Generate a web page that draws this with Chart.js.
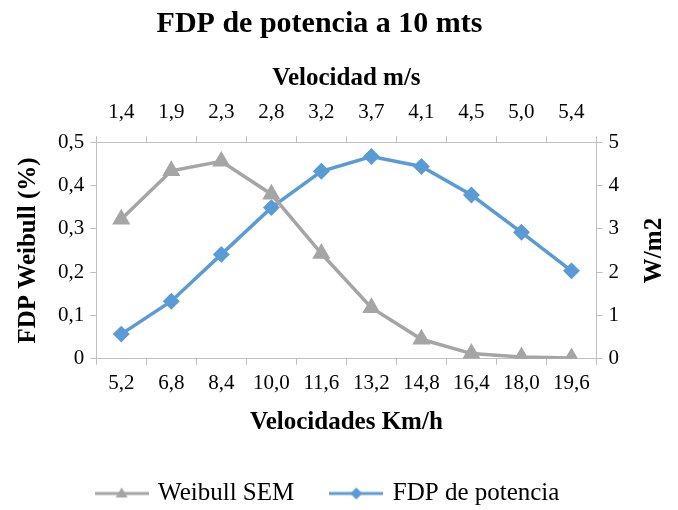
<!DOCTYPE html>
<html>
<head>
<meta charset="utf-8">
<script src="https://cdn.jsdelivr.net/npm/chart.js@4.4.0/dist/chart.umd.min.js"></script>
<style>
  html, body { margin: 0; padding: 0; background: #fff; }
  #wrap { width: 678px; height: 510px; position: relative; }
</style>
</head>
<body>
<div id="wrap"><canvas id="chart" width="678" height="510"></canvas></div>
<script>
// --- Data ---
const kmhLabels = ["5,2", "6,8", "8,4", "10,0", "11,6", "13,2", "14,8", "16,4", "18,0", "19,6"];
const msLabels = ["1,4", "1,9", "2,3", "2,8", "3,2", "3,7", "4,1", "4,5", "5,0", "5,4"];
const weibullSem = [0.322, 0.434, 0.456, 0.380, 0.243, 0.118, 0.045, 0.012, 0.004, 0.002];
const fdpPotencia = [0.57, 1.33, 2.41, 3.49, 4.33, 4.67, 4.44, 3.78, 2.92, 2.03];

const gray = "#A5A5A5";
const blue = "#5B9BD5";
const axisColor = "#BFBFBF";
const serif = "'Liberation Serif', 'Times New Roman', serif";

// legend swatch: line with marker in the middle
const makeSwatch = (color, style) => {
  const c = document.createElement("canvas");
  c.width = 54; c.height = 16;
  const g = c.getContext("2d");
  g.strokeStyle = color;
  g.lineWidth = 3;
  g.beginPath(); g.moveTo(0, 8); g.lineTo(54, 8); g.stroke();
  g.fillStyle = color;
  g.beginPath();
  if (style === "triangle") {
    g.moveTo(27, 2); g.lineTo(33, 12); g.lineTo(21, 12);
  } else {
    g.moveTo(27, 2); g.lineTo(33, 8); g.lineTo(27, 14); g.lineTo(21, 8);
  }
  g.closePath(); g.fill();
  return c;
};
const swatches = [makeSwatch(gray, "triangle"), makeSwatch(blue, "rectRot")];

const tickFont = { family: serif, size: 21 };
const titleFont = { family: serif, size: 25, weight: "bold" };
const fmt = (v, d) => (v === 0 ? "0" : v.toFixed(d).replace(".", ","));

// right axis title reads bottom-to-top, like the left one
const rightTitle = {
  id: "rightTitle",
  afterLayout(chart) {
    // legend sits a little right of centre in the original
    if (chart.legend) {
      chart.legend.left += 9;
      chart.legend.right += 9;
    }
  },
  afterDraw(chart) {
    const ctx = chart.ctx;
    const area = chart.chartArea;
    ctx.save();
    ctx.translate(655, (area.top + area.bottom) / 2);
    ctx.rotate(-Math.PI / 2);
    ctx.fillStyle = "#000";
    ctx.font = `bold ${titleFont.size}px ${serif}`;
    ctx.textAlign = "center";
    ctx.textBaseline = "middle";
    ctx.fillText("W/m2", 0, 0);
    ctx.restore();
  }
};

new Chart(document.getElementById("chart"), {
  type: "line",
  data: {
    labels: kmhLabels,
    datasets: [
      {
        label: "Weibull SEM",
        data: weibullSem,
        yAxisID: "y",
        borderColor: gray,
        backgroundColor: gray,
        borderWidth: 3.5,
        pointStyle: "triangle",
        pointRadius: 7,
        pointHoverRadius: 7,
        tension: 0
      },
      {
        label: "FDP de potencia",
        data: fdpPotencia,
        yAxisID: "y1",
        borderColor: blue,
        backgroundColor: blue,
        borderWidth: 3.5,
        pointStyle: "rectRot",
        pointRadius: 6,
        pointHoverRadius: 6,
        tension: 0
      }
    ]
  },
  options: {
    responsive: false,
    animation: false,
    layout: { padding: { left: 14, right: 53, top: 0, bottom: -6 } },
    plugins: {
      title: {
        display: true,
        text: "FDP de potencia a 10 mts",
        color: "#000",
        font: { family: serif, size: 30, weight: "bold" },
        padding: { top: 6, bottom: 22 }
      },
      legend: {
        position: "bottom",
        labels: {
          color: "#000",
          font: { family: serif, size: 25 },
          usePointStyle: true,
          pointStyleWidth: 48,
          boxHeight: 16,
          padding: 38,
          generateLabels: (chart) => chart.data.datasets.map((ds, i) => ({
            text: ds.label,
            pointStyle: swatches[i],
            fillStyle: ds.borderColor,
            strokeStyle: ds.borderColor,
            lineWidth: 0,
            datasetIndex: i
          }))
        }
      },
      tooltip: { enabled: false }
    },
    scales: {
      x: {
        position: "bottom",
        offset: true,
        grid: { offset: true, drawOnChartArea: false, color: axisColor, tickLength: 6 },
        border: { color: axisColor, width: 1 },
        ticks: { color: "#000", font: tickFont, maxRotation: 0, autoSkip: false, padding: 6 },
        title: { display: true, text: "Velocidades Km/h", color: "#000", font: titleFont, padding: { top: 6, bottom: 5 } }
      },
      x2: {
        type: "category",
        position: "top",
        labels: msLabels,
        offset: true,
        grid: { offset: true, drawOnChartArea: false, color: axisColor, tickLength: 6 },
        border: { color: axisColor, width: 1 },
        ticks: { color: "#000", font: tickFont, maxRotation: 0, autoSkip: false, padding: 11 },
        title: { display: true, text: "Velocidad m/s", color: "#000", font: titleFont, padding: { top: 0, bottom: -5 } }
      },
      y: {
        position: "left",
        min: 0,
        max: 0.5,
        ticks: { stepSize: 0.1, color: "#000", font: tickFont, padding: 6, callback: (v) => fmt(v, 1) },
        grid: { drawOnChartArea: false, color: axisColor, tickLength: 6 },
        border: { color: axisColor, width: 1 },
        title: { display: true, text: "FDP Weibull (%)", color: "#000", font: titleFont, padding: { top: 0, bottom: 8 } }
      },
      y1: {
        position: "right",
        min: 0,
        max: 5,
        ticks: { stepSize: 1, color: "#000", font: tickFont, padding: 6, callback: (v) => fmt(v, 0) },
        grid: { drawOnChartArea: false, color: axisColor, tickLength: 6 },
        border: { color: axisColor, width: 1 },
        title: { display: false }
      }
    }
  },
  plugins: [rightTitle]
});
</script>
</body>
</html>
